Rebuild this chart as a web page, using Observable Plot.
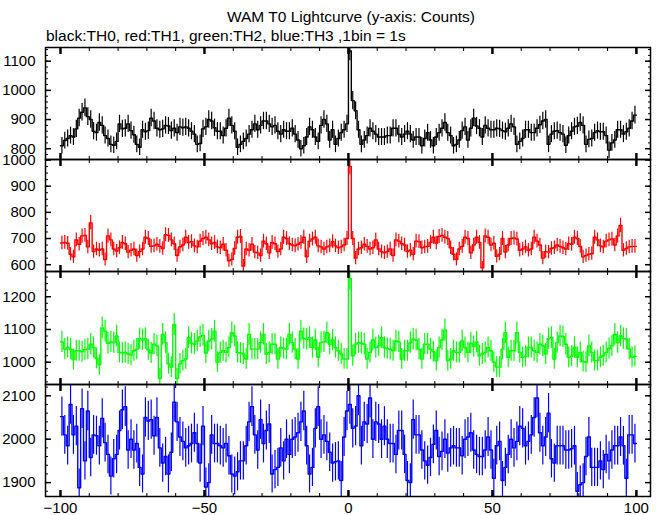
<!DOCTYPE html>
<html><head><meta charset="utf-8">
<script src="https://cdn.jsdelivr.net/npm/d3@7"></script>
<script src="https://cdn.jsdelivr.net/npm/@observablehq/plot@0.6"></script>
<style>
body{margin:0;background:#fff;}
#wrap{position:relative;width:662px;height:515px;overflow:hidden;background:#fff;font-family:"Liberation Sans",Arial,Helvetica,sans-serif;color:#000;}
.title{position:absolute;left:0;width:702px;text-align:center;top:8px;font-size:15.5px;line-height:18px;white-space:nowrap;}
.sub{position:absolute;left:46px;top:27px;font-size:15.5px;line-height:18px;white-space:nowrap;}
.panel{position:absolute;left:0;}
</style></head><body>
<div id="wrap">
<div class="title">WAM T0 Lightcurve (y-axis: Counts)</div>
<div class="sub">black:TH0, red:TH1, green:TH2, blue:TH3 ,1bin = 1s</div>
</div>
<script>
// ---- data (counts per 1 s bin, t = -100 .. 99) ----
const tStart = -100;
const binSize = 1;
const th0 = [
810,828,835,845,840,868,905,925,940,910,
900,860,855,890,880,845,835,815,812,825,
885,868,870,885,862,848,815,805,865,858,
862,905,895,870,865,868,880,878,862,870,
855,875,872,875,870,860,850,815,818,868,
875,900,895,872,860,860,845,870,905,880,
860,805,815,825,835,850,865,885,865,880,
895,895,885,875,880,860,850,865,860,860,
870,850,830,800,810,840,875,865,840,825,
880,900,885,830,865,815,835,855,865,885,
1135,965,930,865,815,830,845,870,860,850,
840,840,840,845,845,870,870,850,840,850,
860,850,830,840,840,810,835,855,830,810,
840,855,870,890,855,845,810,815,830,862,
875,830,870,905,878,870,840,880,870,865,
865,870,868,862,858,870,885,875,815,825,
835,865,865,855,855,870,882,895,900,815,
850,860,862,855,850,812,845,860,875,878,
890,880,815,832,835,855,862,858,858,845,
795,820,830,865,865,850,858,870,895,915];
const th1 = [
683,685,682,640,630,695,678,710,712,668,
760,650,660,655,660,620,710,695,660,652,
665,685,680,648,655,660,635,650,660,705,
700,670,672,678,670,662,715,712,695,680,
635,668,675,705,685,688,672,668,690,700,
705,695,680,685,668,665,678,655,615,620,
662,705,708,595,660,655,678,648,645,635,
690,680,645,685,680,650,660,705,700,680,
675,672,678,685,705,630,690,698,705,672,
668,660,668,672,688,672,665,668,675,700,
975,700,625,660,665,678,670,660,665,695,
660,650,645,650,660,635,695,690,680,675,
650,655,640,690,688,665,668,670,685,705,
683,708,712,705,700,665,640,620,660,670,
705,700,645,675,705,685,588,710,705,675,
682,632,640,700,648,675,700,702,698,655,
660,668,655,660,705,690,675,625,650,648,
662,665,675,670,665,660,680,678,705,700,
670,630,635,640,642,705,695,672,668,690,
695,698,675,710,750,655,662,668,670,670];
const th2 = [
1062,1040,1045,1040,1008,1035,1035,1032,1038,1040,
1055,1045,1012,992,1105,1095,1058,1062,1060,1080,
1030,1028,1030,1025,1022,1035,1040,1072,1068,1072,
1038,1028,1055,1050,950,1085,1060,995,985,1115,
950,995,1005,1010,1075,1058,1055,1065,1078,1082,
1028,1065,1070,1095,1000,1030,1035,1030,1045,1090,
1080,1030,1028,1025,1010,1085,1040,1040,1040,1060,
1085,1025,1030,1055,1055,1010,1045,1042,1040,1085,
1060,1040,1010,1095,1072,1070,1075,1045,1068,1015,
1060,1062,1090,1055,1068,1045,1035,1025,1010,1010,
1255,1020,1055,1060,1058,1055,1010,1030,1068,1045,
1050,1075,1045,1042,1040,1035,1065,1062,1010,1035,
1035,1060,1070,1068,1040,1010,1055,1055,1040,1032,
1005,1045,1068,1098,1005,1010,1035,1030,1030,1065,
1045,1030,1058,1048,1062,1020,1025,1030,1045,1035,
1000,985,985,1040,1090,1015,1035,1035,1090,1030,
1015,1018,1045,1045,1035,1030,1055,1050,1025,1072,
1075,1010,1060,1080,1078,1055,1015,1018,1045,1015,
1030,1002,1000,1050,1030,1005,1005,1015,1020,1030,
1042,1050,1085,1060,1080,1072,1070,1040,1015,1018];
const th3 = [
2052,2010,1985,2080,2010,2030,1888,2070,1950,2065,
1958,2010,2008,1985,2048,1992,1965,1915,1955,1965,
2020,2068,2075,1975,2000,1975,1990,1935,1920,2050,
2042,2045,2008,2050,1980,1945,1960,1920,1970,2085,
2040,2005,1995,1980,1985,1990,2015,1990,1945,2030,
1890,1900,2010,1990,1990,1985,1980,1990,1962,1920,
1915,1925,1950,1950,1985,2040,2075,2010,1975,2045,
1990,2020,2035,1920,1930,1935,1980,1950,2000,1965,
2000,2005,2015,2040,2065,1985,1920,1935,2025,2075,
2000,2010,1995,1970,1945,1948,1950,1905,2005,2065,
2080,2025,2030,2100,1985,2040,2035,2095,2000,2040,
2035,2000,2030,2000,1990,1990,1965,2020,2020,1965,
1905,1900,2045,2010,2010,1975,1950,1940,1958,1988,
2020,1960,1972,2000,1968,1980,1985,1980,1980,1962,
2000,2005,2015,1975,1965,1960,1960,1975,2005,1975,
1910,1985,1995,1905,1935,1965,2000,1980,1995,2030,
2025,1985,1995,2010,2050,2095,2015,1985,2005,2060,
1955,1945,1985,1985,1985,1975,1975,1978,1985,1880,
1895,1900,1960,2005,1935,1935,1935,1950,1930,1965,
1950,1975,1985,1985,2005,1985,1910,2010,2010,1990];

// tick labels
const xMajorTicks = [-100, -50, 0, 50, 100];
const xMinorTicks = [-100,-90,-80,-70,-60,-50,-40,-30,-20,-10,0,10,20,30,40,50,60,70,80,90,100];
const th0Ticks = [800, 900, 1000, 1100];
const th1Ticks = [600, 700, 800, 900, 1000];
const th2Ticks = [1000, 1100, 1200];
const th3Ticks = [1900, 2000, 2100];

const xDomain = [-105.2, 104.9];
const font = '"Liberation Sans", Arial, Helvetica, sans-serif';

function panel(values, color, yDomain, yTicks, yMinorStep, frameTop, frameH, last) {
  const mt = 12, mb = last ? 26 : 12;
  const bins = values.map((v, i) => ({t: tStart + i * binSize, v}));
  const steps = bins.concat([{t: tStart + values.length * binSize, v: values[values.length - 1]}]);
  const yMinor = d3.range(Math.ceil(yDomain[0] / yMinorStep) * yMinorStep, yDomain[1], yMinorStep);
  const marks = [
    Plot.ruleX(bins, {x: d => d.t + binSize / 2, y1: d => d.v - Math.sqrt(d.v), y2: d => d.v + Math.sqrt(d.v), stroke: color, strokeWidth: 1.2, clip: true}),
    Plot.line(steps, {x: "t", y: "v", curve: "step-after", stroke: color, strokeWidth: 1.4, clip: true}),
    Plot.axisY(yMinor, {anchor: "left", tickSize: 3, insetLeft: 3, fill: "none", label: null}),
    Plot.axisY(yMinor, {anchor: "right", tickSize: 3, insetRight: 3, fill: "none", label: null}),
    Plot.axisY(yTicks, {anchor: "left", tickSize: 6, insetLeft: 6, fill: "none", strokeWidth: 1.5, label: null}),
    Plot.axisY(yTicks, {anchor: "right", tickSize: 6, insetRight: 6, fill: "none", strokeWidth: 1.5, label: null}),
    Plot.axisY(yTicks, {anchor: "left", tickSize: 0, tickPadding: 10, stroke: "none", label: null, tickFormat: "d"}),
    Plot.axisX(xMinorTicks, {anchor: "top", tickSize: 3, insetTop: 3, fill: "none", label: null}),
    Plot.axisX(xMinorTicks, {anchor: "bottom", tickSize: 3, insetBottom: 3, fill: "none", label: null}),
    Plot.axisX(xMajorTicks, {anchor: "top", tickSize: 6, insetTop: 6, fill: "none", strokeWidth: 2.5, label: null}),
    Plot.axisX(xMajorTicks, {anchor: "bottom", tickSize: 6, insetBottom: 6, fill: "none", strokeWidth: 2.5, label: null}),
    Plot.frame({stroke: "black", strokeWidth: 1.5})
  ];
  if (last) marks.push(Plot.axisX(xMajorTicks, {anchor: "bottom", tickSize: 0, tickPadding: 6, stroke: "none", label: null, tickFormat: "d"}));
  const svg = Plot.plot({
    width: 662,
    height: frameH + mt + mb,
    marginLeft: 45, marginRight: 12, marginTop: mt, marginBottom: mb,
    style: {background: "transparent", overflow: "visible", fontFamily: font, fontSize: "15px", color: "black"},
    x: {domain: xDomain},
    y: {domain: yDomain},
    marks
  });
  svg.classList.add("panel");
  svg.style.top = (frameTop - mt) + "px";
  svg.style.position = "absolute";
  svg.style.left = "0px";
  document.getElementById("wrap").appendChild(svg);
}

panel(th0, "#000000", [763, 1147], th0Ticks, 20, 47, 112, false);
panel(th1, "#ff0000", [574, 1002], th1Ticks, 25, 159, 112, false);
panel(th2, "#00ff00", [932, 1277], th2Ticks, 20, 271, 113, false);
panel(th3, "#0000ff", [1868, 2126], th3Ticks, 20, 384, 112, true);
</script>
</body></html>
